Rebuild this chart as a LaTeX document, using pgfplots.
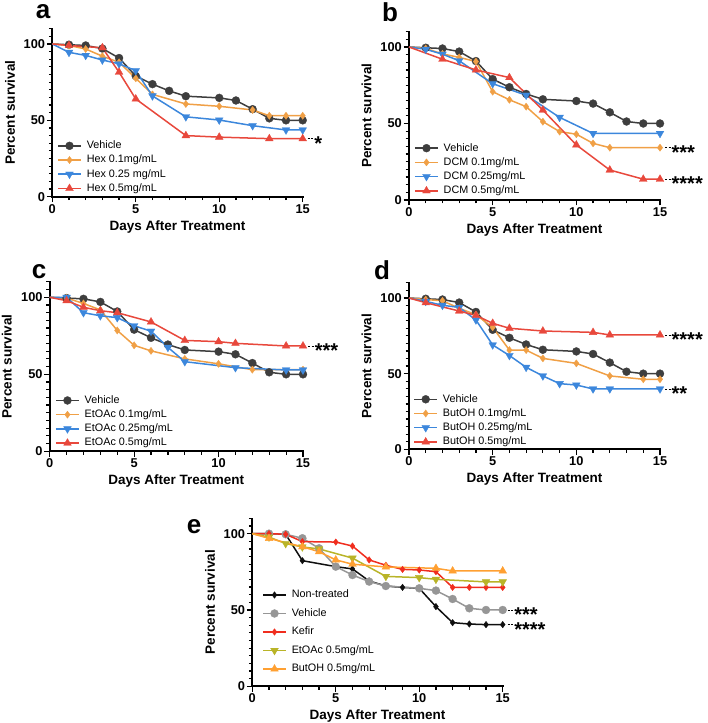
\documentclass[border=0pt]{standalone}
\usepackage{pgfplots}
\pgfplotsset{compat=1.18}
\usepackage{fontspec}
\setmainfont{Liberation Sans}
\definecolor{veh}{RGB}{62,62,62}
\definecolor{cor}{RGB}{240,160,70}
\definecolor{cbl}{RGB}{60,135,220}
\definecolor{cre}{RGB}{232,72,60}
\definecolor{enon}{RGB}{15,15,15}
\definecolor{egray}{RGB}{150,150,150}
\definecolor{ekef}{RGB}{240,45,30}
\definecolor{eoli}{RGB}{185,180,40}
\definecolor{eora}{RGB}{255,160,50}
\tikzset{sig/.style={font=\fontsize{20}{20}\selectfont\bfseries, anchor=west, inner sep=0pt, text height=12pt, text depth=0pt, xshift=0.5pt, yshift=-5.6pt},
  plet/.style={font=\fontsize{26}{26}\selectfont\bfseries, inner sep=0pt}}
\pgfplotsset{
  prism/.style={
    scale only axis, anchor=south west,
    xmin=0, xmax=15, ymin=0, ymax=110,
    axis lines=left, axis line style={-, line width=1.7pt, line cap=rect},
    xtick={0,5,10,15}, ytick={0,50,100},
    minor xtick={1,2,3,4,6,7,8,9,11,12,13,14},
    minor ytick={5,10,...,110},
    tick align=outside,
    major tick length=5.5pt, minor tick length=3.5pt,
    tick style={line width=1.2pt, black},
    /pgf/number format/assume math mode=true,
    tick label style={font=\fontsize{12.8}{14}\selectfont\bfseries},
    xticklabel style={inner sep=2pt},
    yticklabel style={inner sep=1.5pt},
    label style={font=\fontsize{13.5}{15}\selectfont\bfseries},
    xlabel={Days After Treatment}, ylabel={Percent survival},
    xlabel style={at={(axis description cs:0.5,-0.178)}, anchor=center},
    ylabel style={at={(axis description cs:-0.169,0.5)}, anchor=center},
    clip=false,
    every axis plot/.append style={line width=1.5pt, mark phase=2, mark repeat=1},
    legend cell align=left,
    legend style={draw=none, fill=none, font=\fontsize{10.8}{12}\selectfont,
      inner sep=0pt, row sep=4.8pt, anchor=north west,
      nodes={inner sep=0pt, text height=7.6pt, text depth=1.8pt},
      /tikz/every odd column/.append style={column sep=5pt}},
    legend image code/.code={\draw[mark repeat=2, mark phase=2, #1] plot coordinates {(0pt,0pt)(11.5pt,0pt)(23pt,0pt)};},
  },
  sveh/.style={color=veh, mark=*, mark size=4pt, mark options={solid, line width=0.3pt}},
  sor/.style={color=cor, mark=diamond*, mark size=3.6pt, mark options={solid, line width=0.3pt}},
  sbl/.style={color=cbl, mark=triangle*, mark size=4.5pt, mark options={solid, line width=0.3pt, rotate=180}},
  sre/.style={color=cre, mark=triangle*, mark size=4.5pt, mark options={solid, line width=0.3pt}},
}
\newcommand{\sigmark}[2]{\draw[line width=0.6pt, dash pattern=on 2pt off 1.5pt] (axis cs:15.3,#1) -- (axis cs:15.65,#1) node[sig] {#2};}
\begin{document}
\begin{tikzpicture}
\useasboundingbox (0pt,0pt) rectangle (708pt,723pt);
% ---------------- a
\begin{axis}[prism, at={(52.3pt,526.3pt)}, width=250.4pt, height=168pt,
  legend style={at={(axis description cs:0.019,0.332)}}]
\addplot[sveh] coordinates {(0,100)(1,99.5)(2,99)(3,97)(4,90.8)(5,79)(6,73.7)(7,69.3)(8,65.8)(10,64.7)(11,63)(12,57.3)(13,51.3)(14,50)(15,50)};
\addplot[sor] coordinates {(0,100)(1,99)(2,96.7)(3,92)(4,88)(5,77.5)(6,67)(8,60.7)(10,59.2)(12,56.8)(13,53)(14,53)(15,53)};
\addplot[sbl] coordinates {(0,100)(1,94.5)(2,92.5)(3,89.5)(4,87)(5,82.5)(6,66)(8,52.3)(10,50.2)(12,46.5)(14,43.7)(15,43.7)};
\addplot[sre] coordinates {(0,100)(1,99)(3,97.5)(4,81.5)(5,64)(8,40)(10,39)(13,38)(15,38)};
\legend{Vehicle, Hex 0.1mg/mL, Hex 0.25 mg/mL, Hex 0.5mg/mL}
\sigmark{38}{*}
\end{axis}
% ---------------- b
\begin{axis}[prism, at={(409pt,523pt)}, width=251pt, height=168.3pt,
  legend style={at={(axis description cs:0.02,0.337)}}]
\addplot[sveh] coordinates {(0,100)(1,99.5)(2,99)(3,97)(4,90.8)(5,79)(6,73.7)(7,69.3)(8,65.8)(10,64.7)(11,63)(12,57.3)(13,51.3)(14,50)(15,50)};
\addplot[sor] coordinates {(0,100)(1,99)(2,95.5)(3,93.2)(4,90.5)(5,70.8)(6,65.5)(7,61)(8,51.2)(9,44.7)(10,43)(11,37)(12,34.2)(15,34.2)};
\addplot[sbl] coordinates {(0,100)(1,98.5)(2,95.3)(3,91)(5,76)(7,68.5)(9,54)(11,43.5)(15,43.5)};
\addplot[sre] coordinates {(0,100)(2,92)(4,85)(6,80)(8,58.8)(10,36)(12,19.6)(14,13.6)(15,13.6)};
\legend{Vehicle, DCM 0.1mg/mL, DCM 0.25mg/mL, DCM 0.5mg/mL}
\sigmark{34.2}{***}
\sigmark{13.6}{****}
\end{axis}
% ---------------- c
\begin{axis}[prism, at={(49.7pt,271.7pt)}, width=253.3pt, height=169.4pt,
  legend style={at={(axis description cs:0.021,0.329)}}]
\addplot[sveh] coordinates {(0,100)(1,99.5)(2,99)(3,97)(4,90.8)(5,79)(6,73.7)(7,69.3)(8,65.8)(10,64.7)(11,63)(12,57.3)(13,51.3)(14,50)(15,50)};
\addplot[sor] coordinates {(0,100)(1,99.5)(2,96)(3,91.8)(4,78.5)(5,68.8)(6,65.2)(8,60)(10,56.8)(12,53)(15,53)};
\addplot[sbl] coordinates {(0,100)(1,100)(2,90)(3,88)(4,86.8)(5,81.5)(6,78)(7,67.5)(8,58.2)(11,54.3)(14,52.8)(15,52.8)};
\addplot[sre] coordinates {(0,100)(1,97.8)(2,93.5)(3,91.3)(4,90)(6,84)(8,72)(10,71.2)(11,70.1)(14,68.4)(15,68.4)};
\legend{Vehicle, EtOAc 0.1mg/mL, EtOAc 0.25mg/mL, EtOAc 0.5mg/mL}
\sigmark{68.4}{***}
\end{axis}
% ---------------- d
\begin{axis}[prism, at={(409pt,273.7pt)}, width=251pt, height=166.4pt,
  legend style={at={(axis description cs:0.017,0.33)}}]
\addplot[sveh] coordinates {(0,100)(1,99.5)(2,99)(3,97)(4,90.8)(5,79)(6,73.7)(7,69.3)(8,65.8)(10,64.7)(11,63)(12,57.3)(13,51.3)(14,50)(15,50)};
\addplot[sor] coordinates {(0,100)(1,99)(2,98.2)(3,93.2)(4,89)(5,80.6)(6,65.6)(7,65.6)(8,60.1)(10,56.8)(12,48.5)(14,46.3)(15,46.3)};
\addplot[sbl] coordinates {(0,100)(1,97.8)(2,95.2)(3,93.8)(4,85.5)(5,69)(6,62)(7,54.2)(8,48.5)(9,43.4)(10,42.5)(11,39.9)(12,39.9)(15,39.9)};
\addplot[sre] coordinates {(0,100)(1,96.9)(3,91.4)(4,88.5)(5,83.3)(6,80)(8,78.2)(11,77.3)(12,75.6)(15,75.6)};
\legend{Vehicle, ButOH 0.1mg/mL, ButOH 0.25mg/mL, ButOH 0.5mg/mL}
\sigmark{75.6}{****}
\sigmark{39.9}{**}
\end{axis}
% ---------------- e
\begin{axis}[prism, at={(252.3pt,36.7pt)}, width=250.4pt, height=167.9pt,
  legend style={at={(axis description cs:0.039,0.573)}, row sep=9.1pt}]
\addplot[color=enon, mark=diamond*, mark size=3.3pt, mark options={solid, line width=0.3pt}] coordinates {(0,100)(1,100)(2,99.6)(3,82.3)(5,78.4)(6,76.9)(7,69)(8,65.7)(9,64.8)(10,64.2)(11,52.2)(12,41.7)(13,40.8)(14,40.4)(15,40.4)};
\addplot[color=egray, mark=*, mark size=4pt, mark options={solid, line width=0.3pt}] coordinates {(0,100)(1,100)(2,99.6)(3,97)(4,90.4)(5,78.4)(6,72.9)(7,68.6)(8,65.7)(10,64.2)(11,62.7)(12,57.2)(13,51.1)(14,50)(15,50)};
\addplot[color=ekef, mark=diamond*, mark size=3.3pt, mark options={solid, line width=0.3pt}] coordinates {(0,100)(1,100)(2,99.6)(3,94.8)(5,94.5)(6,91.9)(7,82.8)(8,79.3)(9,76.6)(10,76.2)(11,75.1)(12,64.8)(13,64.8)(14,64.8)(15,64.8)};
\addplot[color=eoli, mark=triangle*, mark size=4.5pt, mark options={solid, line width=0.3pt, rotate=180}] coordinates {(0,100)(1,97.8)(2,93.5)(3,91.3)(4,90)(6,84)(8,72)(10,71.2)(11,70.1)(14,68.4)(15,68.4)};
\addplot[color=eora, mark=triangle*, mark size=4.5pt, mark options={solid, line width=0.3pt}] coordinates {(0,100)(1,96.9)(3,91.4)(4,88.2)(5,82.8)(6,80)(8,78.2)(11,77.3)(12,75.6)(15,75.6)};
\legend{Non-treated, Vehicle, Kefir, EtOAc 0.5mg/mL, ButOH 0.5mg/mL}
\sigmark{50}{***}
\sigmark{40.4}{****}
\end{axis}
% panel letters
\node[plet] at (43pt,711.3pt) {a};
\node[plet] at (390pt,711pt) {b};
\node[plet] at (39pt,451pt) {c};
\node[plet] at (382pt,453pt) {d};
\node[plet] at (194pt,196pt) {e};
\end{tikzpicture}
\end{document}
